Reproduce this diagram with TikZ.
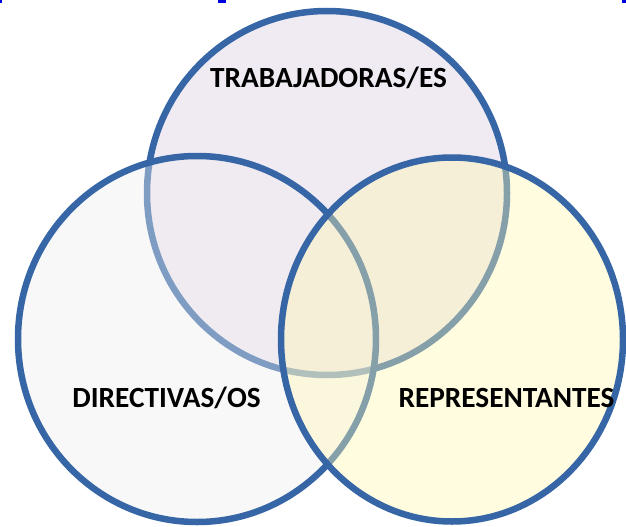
\documentclass[tikz,border=0pt]{standalone}
\usepackage{fontspec}
\setmainfont{Carlito}
\definecolor{vennblue}{RGB}{54,102,165}
\definecolor{toplav}{RGB}{240,234,243}
\definecolor{leftgrey}{RGB}{238,238,240}
\definecolor{rightyel}{RGB}{254,247,177}
\definecolor{markblue}{RGB}{0,0,220}
\begin{document}
\begin{tikzpicture}[x=1pt,y=-1pt,
  venn/.style={draw=vennblue, line width=6.5pt},
  lbl/.style={font=\bfseries\fontsize{29.3}{35}\selectfont, text=black, anchor=base, inner sep=0pt},
  topbit/.style={fill=markblue, draw=none}
]
\useasboundingbox (0,0) rectangle (626,527);
% remnants at top edge
\path[topbit] (0,0) rectangle (2,3);
\path[topbit] (218,0) rectangle (226,3);
\path[topbit] (622,0) rectangle (626,3);
% circles
\path[venn, fill=toplav] (327,193) ellipse [x radius=180, y radius=182];
\path[venn, fill=leftgrey, fill opacity=0.4] (197,339) ellipse [x radius=179, y radius=183];
\path[venn, fill=rightyel, fill opacity=0.4] (452,339.5) ellipse [x radius=171, y radius=182];
% labels
\node[lbl] (trab) at (328.5,88) {TRABAJADORAS/ES};
\node[lbl] (dir) at (166.5,407) {DIRECTIVAS/OS};
\node[lbl] (rep) at (506.5,407) {REPRESENTANTES};
\end{tikzpicture}
\end{document}
